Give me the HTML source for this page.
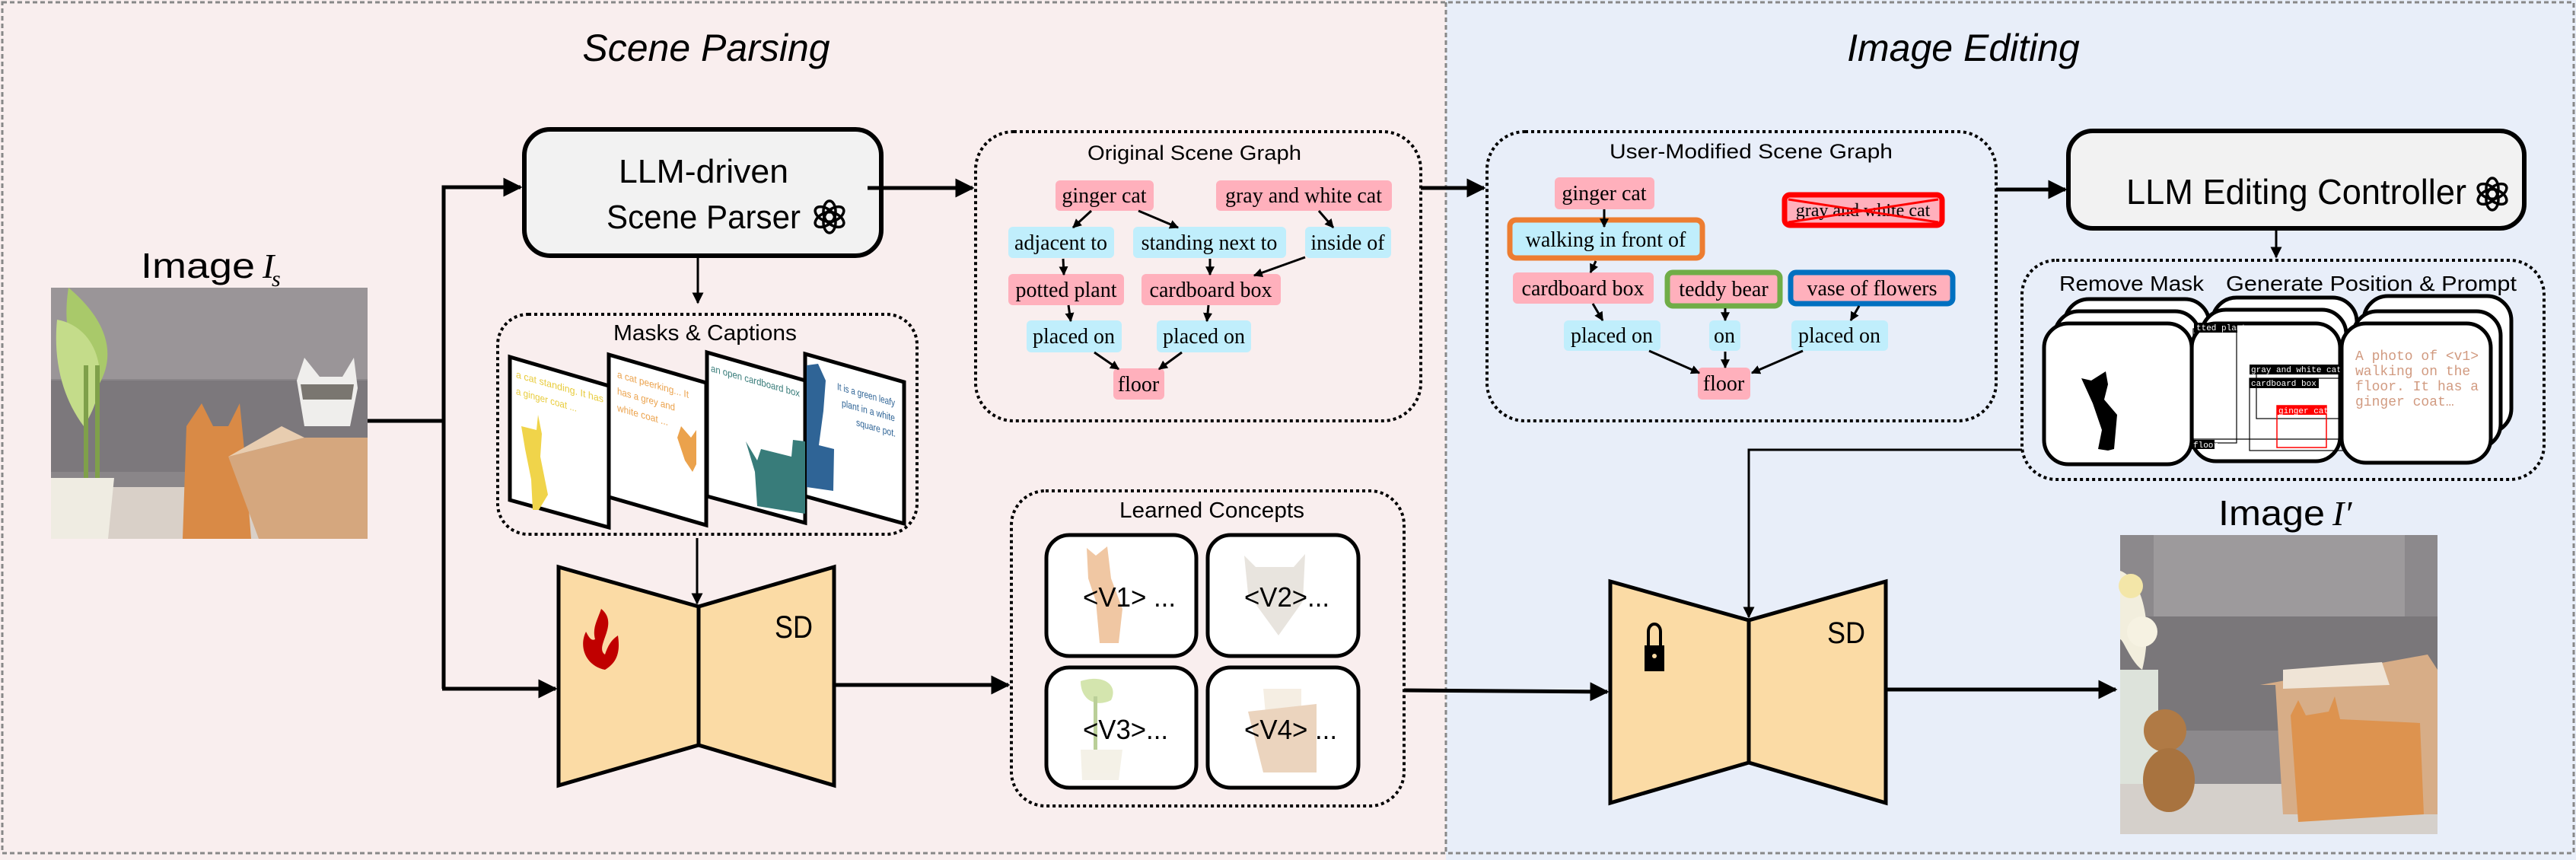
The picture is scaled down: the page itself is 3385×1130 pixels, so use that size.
<!DOCTYPE html>
<html><head><meta charset="utf-8"><style>
html,body{margin:0;padding:0;background:#fff}
svg{display:block}
.sn{font-family:"Liberation Sans",sans-serif}
.sf{font-family:"Liberation Serif",serif}
</style></head><body>
<svg width="3385" height="1130" viewBox="0 0 3385 1130" xmlns="http://www.w3.org/2000/svg">
<defs>
<marker id="ah" viewBox="0 0 10 10" refX="9" refY="5" markerWidth="5" markerHeight="5" orient="auto" markerUnits="strokeWidth"><path d="M0,0 L10,5 L0,10 z" fill="#000"/></marker>
<marker id="as" viewBox="0 0 10 10" refX="9" refY="5" markerWidth="4" markerHeight="4" orient="auto" markerUnits="strokeWidth"><path d="M0,0 L10,5 L0,10 z" fill="#000"/></marker>
<g id="oai"><g fill="none" stroke="#000" stroke-width="3.5">
<ellipse cx="0" cy="-7" rx="8" ry="14"/><ellipse cx="0" cy="-7" rx="8" ry="14" transform="rotate(60)"/><ellipse cx="0" cy="-7" rx="8" ry="14" transform="rotate(120)"/><ellipse cx="0" cy="-7" rx="8" ry="14" transform="rotate(180)"/><ellipse cx="0" cy="-7" rx="8" ry="14" transform="rotate(240)"/><ellipse cx="0" cy="-7" rx="8" ry="14" transform="rotate(300)"/></g></g>
</defs>
<rect x="0" y="0" width="1900" height="1130" fill="#f9eeee"/>
<rect x="1900" y="0" width="1485" height="1130" fill="#e8eef9"/>
<rect x="3" y="3" width="3379" height="1118" fill="none" stroke="#888" stroke-width="3" stroke-dasharray="6,4"/>
<line x1="1900" y1="3" x2="1900" y2="1121" stroke="#888" stroke-width="3" stroke-dasharray="6,4"/>
<text x="928" y="80" font-size="50" font-style="italic" text-anchor="middle" font-family="Liberation Sans, sans-serif">Scene Parsing</text>
<text x="2580" y="80" font-size="50" font-style="italic" text-anchor="middle" font-family="Liberation Sans, sans-serif">Image Editing</text>

<text x="185" y="365" font-size="46" class="sn" textLength="150" lengthAdjust="spacingAndGlyphs">Image</text>
<text x="345" y="365" font-size="46" font-family="Liberation Serif,serif" font-style="italic">I</text>
<text x="357" y="376" font-size="30" font-family="Liberation Serif,serif" font-style="italic">s</text>
<g>
<rect x="67" y="378" width="416" height="330" fill="#8a8689"/>
<rect x="67" y="378" width="416" height="120" fill="#9a9598"/>
<rect x="67" y="500" width="416" height="120" fill="#7c787c"/>
<rect x="67" y="640" width="416" height="68" fill="#d9d0c8"/>
<path d="M90,378 C140,420 160,470 120,520 C100,480 80,440 90,378 Z" fill="#a9c96a"/>
<path d="M75,420 C130,430 150,500 110,560 C80,520 70,470 75,420 Z" fill="#c4dc8a"/>
<rect x="110" y="480" width="6" height="150" fill="#7fa04a"/><rect x="125" y="480" width="6" height="150" fill="#7fa04a"/>
<path d="M67,628 L150,628 L142,708 L67,708 Z" fill="#efece2"/>
<path d="M245,560 L265,530 L280,560 L300,560 L315,530 L320,580 L330,708 L240,708 Z" fill="#d98a46"/>
<path d="M300,600 L400,575 L483,575 L483,708 L340,708 Z" fill="#d5a77e"/>
<path d="M300,600 L370,560 L400,575 Z" fill="#e8cdb0"/>
<path d="M390,500 L400,470 L420,495 L450,495 L465,470 L470,510 L460,560 L400,560 Z" fill="#efeeec"/>
<path d="M395,505 L465,505 L462,525 L398,525 Z" fill="#7a7670"/>
</g>
<line x1="483" y1="553" x2="583" y2="553" stroke="#000" stroke-width="5"/>
<polyline points="583,905 583,246 684,246" fill="none" stroke="#000" stroke-width="5" marker-end="url(#ah)"/>
<polyline points="581,905 730,905" fill="none" stroke="#000" stroke-width="5" marker-end="url(#ah)"/>

<rect x="689" y="170" width="469" height="166" rx="34" fill="#f2f2f2" stroke="#000" stroke-width="6"/>
<text x="813" y="240" font-size="44" class="sn" textLength="223" lengthAdjust="spacingAndGlyphs">LLM-driven</text>
<text x="797" y="300" font-size="44" class="sn" textLength="255" lengthAdjust="spacingAndGlyphs">Scene Parser</text>
<use href="#oai" x="1090" y="285"/>
<line x1="917" y1="336" x2="917" y2="398" stroke="#000" stroke-width="3" marker-end="url(#ah)"/>

<rect x="654" y="413" width="551" height="289" rx="40" fill="none" stroke="#000" stroke-width="4" stroke-dasharray="4,4"/>
<text x="806" y="447" font-size="29" class="sn" textLength="241" lengthAdjust="spacingAndGlyphs">Masks &amp; Captions</text>
<g stroke="#000" stroke-width="5" fill="#fff">
<polygon points="670,469 800,507 800,693 670,657"/>
<polygon points="800,466 928,503 928,690 800,653"/>
<polygon points="929,463 1058,500 1058,687 929,652"/>
<polygon points="1058,465 1188,502 1188,688 1058,652"/>
</g>
<path d="M685,560 L705,565 L707,545 L712,570 L710,600 L720,650 L708,670 L700,670 L698,630 L690,590 Z" fill="#f0d44a"/>
<path d="M890,575 L895,560 L908,575 L915,565 L915,610 L910,620 L900,605 Z" fill="#eba24c"/>
<path d="M980,580 L995,605 L1000,590 L1040,600 L1042,578 L1058,580 L1058,675 L995,665 L992,620 Z" fill="#387c7a"/>
<path d="M1060,480 L1075,478 L1085,500 L1082,540 L1076,585 L1096,590 L1095,645 L1060,640 Z" fill="#2f6496"/>
<g class="sn" font-size="13">
<g transform="translate(678,496) skewY(16)"><text fill="#e8cc3d" y="0" textLength="115" lengthAdjust="spacingAndGlyphs">a cat standing. It has</text><text fill="#e8cc3d" y="22" textLength="80" lengthAdjust="spacingAndGlyphs">a ginger coat ...</text></g>
<g transform="translate(811,496) skewY(16)"><text fill="#eba24c" y="0" textLength="94" lengthAdjust="spacingAndGlyphs">a cat peerking... It</text><text fill="#eba24c" y="22" textLength="76" lengthAdjust="spacingAndGlyphs">has a grey and</text><text fill="#eba24c" y="44" textLength="67" lengthAdjust="spacingAndGlyphs">white coat ...</text></g>
<g transform="translate(934,488) skewY(16)"><text fill="#387c7a" y="0" textLength="117" lengthAdjust="spacingAndGlyphs">an open cardboard box</text></g>
<g transform="translate(1100,512) skewY(16)"><text fill="#2f6496" y="0" textLength="76" lengthAdjust="spacingAndGlyphs">It is a green leafy</text><text fill="#2f6496" y="20" x="6" textLength="70" lengthAdjust="spacingAndGlyphs">plant in a white</text><text fill="#2f6496" y="40" x="25" textLength="52" lengthAdjust="spacingAndGlyphs">square pot.</text></g>
</g>
<line x1="916" y1="707" x2="916" y2="793" stroke="#000" stroke-width="3" marker-end="url(#ah)"/>

<polygon points="734,745 918,797 918,979 734,1032" fill="#fbdba5" stroke="#000" stroke-width="5"/>
<polygon points="1096,745 918,797 918,979 1096,1032" fill="#fbdba5" stroke="#000" stroke-width="5"/>
<text x="1043" y="838" font-size="42" text-anchor="middle" class="sn" textLength="50" lengthAdjust="spacingAndGlyphs">SD</text>
<path d="M790,800 C815,820 780,850 795,860 C800,845 805,840 812,835 C815,855 812,870 795,880 C770,875 760,850 770,830 C775,840 778,842 782,840 C778,825 785,815 790,800 Z" fill="#c00000"/>
<line x1="1096" y1="900" x2="1325" y2="900" stroke="#000" stroke-width="5" marker-end="url(#ah)"/>

<rect x="1329" y="645" width="516" height="414" rx="45" fill="none" stroke="#000" stroke-width="4" stroke-dasharray="4,4"/>
<text x="1471" y="680" font-size="29" class="sn" textLength="243" lengthAdjust="spacingAndGlyphs">Learned Concepts</text>
<g stroke="#000" stroke-width="5" fill="#fff">
<rect x="1375" y="703" width="197" height="159" rx="30"/><rect x="1587" y="703" width="198" height="159" rx="30"/>
<rect x="1375" y="877" width="197" height="158" rx="30"/><rect x="1587" y="877" width="198" height="158" rx="30"/>
</g>
<g opacity="0.6">
<path d="M1428,720 L1440,730 L1455,718 L1460,760 L1475,800 L1470,845 L1445,845 L1440,790 L1430,760 Z" fill="#e6a266"/>
<path d="M1635,730 L1650,745 L1700,745 L1715,728 L1712,790 L1680,835 L1640,780 Z" fill="#d8d2c8"/>
<path d="M1420,895 C1450,885 1470,900 1460,920 C1440,930 1420,920 1420,895 Z" fill="#b8d57a"/>
<rect x="1437" y="915" width="5" height="80" fill="#8db054"/>
<path d="M1420,985 L1475,985 L1470,1025 L1422,1025 Z" fill="#ede8d8"/>
<path d="M1660,905 L1710,905 L1710,960 L1665,960 Z" fill="#efe4d2"/>
<path d="M1640,935 L1730,925 L1730,1015 L1660,1015 Z" fill="#deb893"/>
</g>
<g class="sn" font-size="36">
<text x="1423" y="797" textLength="122" lengthAdjust="spacingAndGlyphs">&lt;V1&gt; ...</text><text x="1635" y="797" textLength="112" lengthAdjust="spacingAndGlyphs">&lt;V2&gt;...</text>
<text x="1423" y="971" textLength="112" lengthAdjust="spacingAndGlyphs">&lt;V3&gt;...</text><text x="1635" y="971" textLength="122" lengthAdjust="spacingAndGlyphs">&lt;V4&gt; ...</text>
</g>
<line x1="1845" y1="907" x2="2112" y2="909" stroke="#000" stroke-width="5" marker-end="url(#ah)"/>

<line x1="1140" y1="247" x2="1278" y2="247" stroke="#000" stroke-width="5" marker-end="url(#ah)"/>
<rect x="1282" y="173" width="585" height="380" rx="50" fill="none" stroke="#000" stroke-width="4" stroke-dasharray="4,4"/>
<text x="1429" y="210" font-size="27" class="sn" textLength="281" lengthAdjust="spacingAndGlyphs">Original Scene Graph</text>
<g class="sf" font-size="28" text-anchor="middle">
<rect x="1387" y="237" width="129" height="40" rx="6" fill="#ffb0bc"/><text x="1451" y="266">ginger cat</text>
<rect x="1598" y="237" width="231" height="40" rx="6" fill="#ffb0bc"/><text x="1713" y="266">gray and white cat</text>
<rect x="1325" y="298" width="139" height="41" rx="6" fill="#c0eefc"/><text x="1394" y="328">adjacent to</text>
<rect x="1489" y="298" width="201" height="41" rx="6" fill="#c0eefc"/><text x="1589" y="328">standing next to</text>
<rect x="1715" y="298" width="113" height="41" rx="6" fill="#c0eefc"/><text x="1771" y="328">inside of</text>
<rect x="1325" y="360" width="152" height="41" rx="6" fill="#ffb0bc"/><text x="1401" y="390">potted plant</text>
<rect x="1500" y="360" width="183" height="41" rx="6" fill="#ffb0bc"/><text x="1591" y="390">cardboard box</text>
<rect x="1349" y="421" width="125" height="42" rx="6" fill="#c0eefc"/><text x="1411" y="451">placed on</text>
<rect x="1520" y="421" width="124" height="42" rx="6" fill="#c0eefc"/><text x="1582" y="451">placed on</text>
<rect x="1463" y="484" width="67" height="41" rx="6" fill="#ffb0bc"/><text x="1496" y="514">floor</text>
</g>
<g stroke="#000" stroke-width="3" marker-end="url(#as)">
<line x1="1434" y1="277" x2="1410" y2="299"/><line x1="1496" y1="277" x2="1548" y2="299"/>
<line x1="1733" y1="277" x2="1752" y2="299"/><line x1="1397" y1="340" x2="1398" y2="361"/>
<line x1="1590" y1="340" x2="1590" y2="361"/><line x1="1715" y1="338" x2="1648" y2="362"/>
<line x1="1404" y1="401" x2="1407" y2="422"/><line x1="1588" y1="401" x2="1586" y2="422"/>
<line x1="1438" y1="463" x2="1470" y2="485"/><line x1="1553" y1="463" x2="1523" y2="485"/>
</g>
<line x1="1867" y1="247" x2="1950" y2="247" stroke="#000" stroke-width="5" marker-end="url(#ah)"/>

<rect x="1954" y="173" width="669" height="380" rx="50" fill="none" stroke="#000" stroke-width="4" stroke-dasharray="4,4"/>
<text x="2115" y="208" font-size="27" class="sn" textLength="372" lengthAdjust="spacingAndGlyphs">User-Modified Scene Graph</text>
<g class="sf" font-size="28" text-anchor="middle">
<rect x="2043" y="233" width="131" height="42" rx="6" fill="#ffb0bc"/><text x="2108" y="263">ginger cat</text>
<rect x="1984" y="289" width="253" height="50" rx="8" fill="#c0eefc" stroke="#ed7d31" stroke-width="7"/><text x="2110" y="324">walking in front of</text>
<rect x="2345" y="256" width="207" height="40" rx="7" fill="#ffb0bc" stroke="#ff0000" stroke-width="7"/><text x="2448" y="284" font-size="24">gray and white cat</text>
<line x1="2350" y1="262" x2="2547" y2="292" stroke="#f00" stroke-width="3"/><line x1="2350" y1="292" x2="2547" y2="262" stroke="#f00" stroke-width="3"/>
<rect x="1988" y="358" width="185" height="41" rx="6" fill="#ffb0bc"/><text x="2080" y="388">cardboard box</text>
<rect x="2191" y="358" width="148" height="44" rx="7" fill="#ffb0bc" stroke="#70ad47" stroke-width="7"/><text x="2265" y="389">teddy bear</text>
<rect x="2353" y="358" width="213" height="41" rx="7" fill="#ffb0bc" stroke="#0070c0" stroke-width="7"/><text x="2460" y="388">vase of flowers</text>
<rect x="2055" y="421" width="127" height="40" rx="6" fill="#c0eefc"/><text x="2118" y="450">placed on</text>
<rect x="2246" y="421" width="41" height="40" rx="6" fill="#c0eefc"/><text x="2266" y="450">on</text>
<rect x="2354" y="421" width="127" height="40" rx="6" fill="#c0eefc"/><text x="2417" y="450">placed on</text>
<rect x="2231" y="483" width="69" height="42" rx="6" fill="#ffb0bc"/><text x="2265" y="513">floor</text>
</g>
<g stroke="#000" stroke-width="3" marker-end="url(#as)">
<line x1="2108" y1="275" x2="2108" y2="298"/><line x1="2097" y1="343" x2="2090" y2="358"/>
<line x1="2093" y1="399" x2="2106" y2="421"/><line x1="2267" y1="405" x2="2267" y2="421"/>
<line x1="2443" y1="402" x2="2432" y2="421"/><line x1="2167" y1="461" x2="2233" y2="490"/>
<line x1="2267" y1="462" x2="2267" y2="483"/><line x1="2369" y1="461" x2="2302" y2="490"/>
</g>
<line x1="2623" y1="249" x2="2714" y2="249" stroke="#000" stroke-width="5" marker-end="url(#ah)"/>

<rect x="2718" y="172" width="599" height="128" rx="32" fill="#f2f2f2" stroke="#000" stroke-width="6"/>
<text x="2794" y="268" font-size="46" class="sn" textLength="447" lengthAdjust="spacingAndGlyphs">LLM Editing Controller</text>
<use href="#oai" x="3275" y="255"/>
<line x1="2991" y1="300" x2="2991" y2="338" stroke="#000" stroke-width="3" marker-end="url(#ah)"/>
<rect x="2657" y="342" width="686" height="288" rx="45" fill="none" stroke="#000" stroke-width="4" stroke-dasharray="4,4"/>
<text x="2706" y="382" font-size="28" class="sn" textLength="190" lengthAdjust="spacingAndGlyphs">Remove Mask</text>
<text x="2925" y="382" font-size="28" class="sn" textLength="382" lengthAdjust="spacingAndGlyphs">Generate Position &amp; Prompt</text>
<g stroke="#000" stroke-width="5" fill="#fff">
<rect x="2713" y="393" width="190" height="180" rx="32"/><rect x="2700" y="409" width="190" height="180" rx="32"/><rect x="2686" y="425" width="194" height="185" rx="32"/>
<rect x="2907" y="391" width="190" height="180" rx="32"/><rect x="2893" y="407" width="190" height="180" rx="32"/>
<rect x="3106" y="389" width="194" height="180" rx="32"/><rect x="3092" y="409" width="194" height="180" rx="32"/>
</g>
<path d="M2735,497 L2748,500 L2767,488 L2770,505 L2765,525 L2782,545 L2778,590 L2770,592 L2757,590 L2762,565 L2750,530 Z" fill="#000"/>
<rect x="2880" y="425" width="195" height="181" rx="32" fill="#fff" stroke="#000" stroke-width="5"/>
<g stroke="#000" stroke-width="1.2" fill="none">
<rect x="2882" y="432" width="57" height="150"/><rect x="2956" y="497" width="135" height="95"/><rect x="2965" y="480" width="120" height="70"/>
<line x1="2880" y1="577" x2="3075" y2="577"/>
</g>
<rect x="2992" y="533" width="65" height="55" fill="none" stroke="#f00" stroke-width="1.5"/>
<g font-family="Liberation Mono,monospace" font-size="11" fill="#fff">
<rect x="2883" y="424" width="57" height="13" fill="#000"/><text x="2886" y="434">tted plant</text>
<rect x="2956" y="479" width="119" height="13" fill="#000"/><text x="2958" y="489">gray and white cat</text>
<rect x="2956" y="497" width="91" height="13" fill="#000"/><text x="2958" y="507">cardboard box</text>
<rect x="2992" y="533" width="65" height="12" fill="#f00"/><text x="2994" y="543">ginger cat</text>
<rect x="2880" y="578" width="30" height="12" fill="#000"/><text x="2882" y="588">floor</text>
</g>
<rect x="3077" y="425" width="196" height="183" rx="32" fill="#fff" stroke="#000" stroke-width="5"/>
<g font-family="Liberation Mono,monospace" font-size="18" fill="#d19a80">
<text x="3095" y="473">A photo of &lt;v1&gt;</text><text x="3095" y="493">walking on the</text><text x="3095" y="513">floor. It has a</text><text x="3095" y="533">ginger coat…</text>
</g>
<polyline points="2657,591 2298,591 2298,811" fill="none" stroke="#000" stroke-width="3" marker-end="url(#ah)"/>

<polygon points="2116,764 2298,815 2298,1002 2116,1055" fill="#fbdba5" stroke="#000" stroke-width="5"/>
<polygon points="2478,764 2298,815 2298,1002 2478,1055" fill="#fbdba5" stroke="#000" stroke-width="5"/>
<text x="2426" y="845" font-size="40" text-anchor="middle" class="sn" textLength="50" lengthAdjust="spacingAndGlyphs">SD</text>
<path d="M2166,850 L2166,830 A8,10 0 0 1 2182,830 L2182,850" fill="none" stroke="#000" stroke-width="4"/>
<rect x="2161" y="848" width="26" height="34" fill="#000"/><circle cx="2174" cy="862" r="3" fill="#fbdba5"/>
<line x1="2478" y1="906" x2="2780" y2="906" stroke="#000" stroke-width="5" marker-end="url(#ah)"/>

<text x="2915" y="690" font-size="46" class="sn" textLength="140" lengthAdjust="spacingAndGlyphs">Image</text>
<text x="3065" y="690" font-size="46" font-family="Liberation Serif,serif" font-style="italic">I′</text>
<g>
<rect x="2786" y="703" width="417" height="393" fill="#8c898c"/>
<rect x="2830" y="703" width="330" height="110" fill="#9d9a9c"/>
<rect x="2786" y="810" width="417" height="150" fill="#7a777a"/>
<rect x="2786" y="1030" width="417" height="66" fill="#d5d0cb"/>
<path d="M2786,750 C2815,760 2830,820 2815,880 C2800,870 2790,840 2786,840 Z" fill="#f2eedd"/>
<circle cx="2800" cy="770" r="16" fill="#f3e6a8"/><circle cx="2815" cy="830" r="20" fill="#f6f2e2"/>
<rect x="2786" y="880" width="50" height="150" fill="#dde3db"/>
<ellipse cx="2845" cy="960" rx="28" ry="28" fill="#b07a45"/><ellipse cx="2850" cy="1025" rx="34" ry="42" fill="#a8733f"/>
<path d="M2970,900 L3190,860 L3203,880 L3203,1070 L3000,1070 L2990,900 Z" fill="#d7ad87"/>
<path d="M3000,880 L3130,870 L3140,900 L3000,905 Z" fill="#efe4d6"/>
<path d="M3010,940 L3020,920 L3030,940 L3060,935 L3068,915 L3075,945 L3180,950 L3185,1070 L3020,1080 Z" fill="#dd934f"/>
</g>
</svg>
</body></html>
